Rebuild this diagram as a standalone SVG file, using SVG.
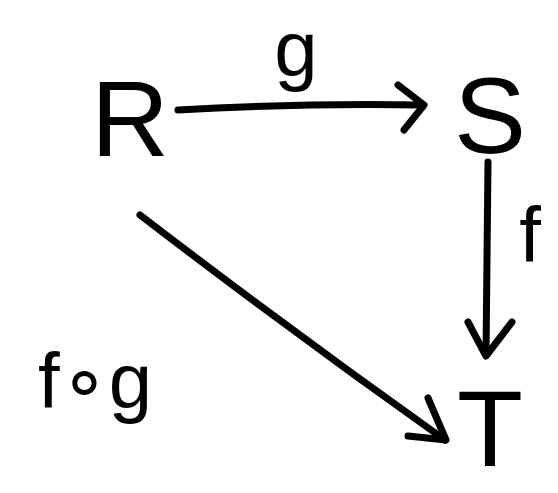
<svg xmlns="http://www.w3.org/2000/svg" width="558" height="493" viewBox="0 0 558 493">
<style>
.node{font-family:"Liberation Sans",sans-serif;font-size:108px;fill:#000;text-anchor:middle}
.lbl{font-family:"Liberation Sans",sans-serif;font-size:78px;fill:#000;text-anchor:middle}
.edge{stroke:#000;stroke-width:7;fill:none;stroke-linecap:round;stroke-linejoin:round}
</style>
<rect width="558" height="493" fill="#fff"/>
<g id="connectors">
<g id="g-arrow"><path class="edge" d="M178 110 Q300 103 422 105"/><path class="edge" d="M398 85 L424 105 L404 130"/><text class="lbl" x="296" y="76">g</text></g>
<g id="f-arrow"><path class="edge" d="M488 162 L486 355"/><path class="edge" d="M468 322 L486 356 L512 322"/><text class="lbl" x="530" y="262">f</text></g>
<g id="fg-arrow"><path class="edge" d="M140 215 Q290 330 445 440"/><path class="edge" d="M428 398 L446 440 L408 436"/><text class="lbl" x="95" y="408">f∘g</text></g>
</g>
<g id="R"><text class="node" x="130" y="156">R</text></g>
<g id="S"><text class="node" x="490" y="153">S</text></g>
<g id="T"><text class="node" x="490" y="466" font-size="100">T</text></g>
</svg>
